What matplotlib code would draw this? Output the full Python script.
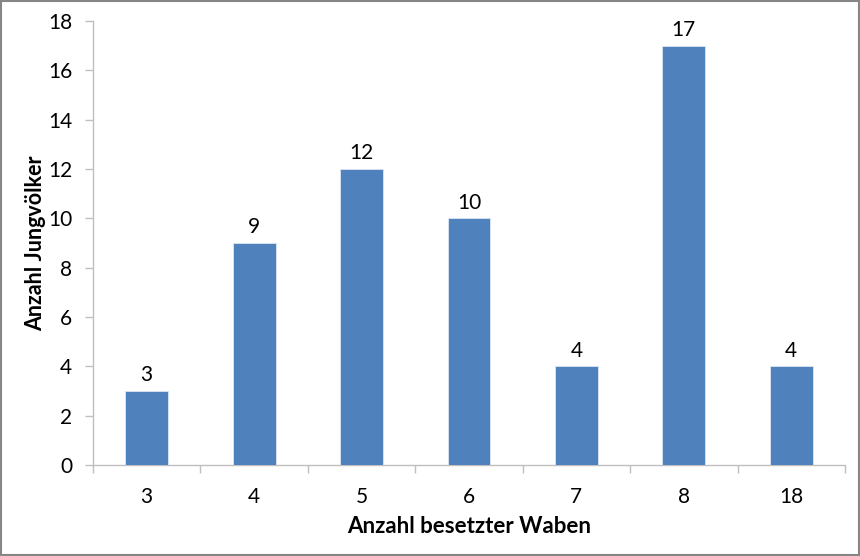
import matplotlib
matplotlib.use("Agg")
import matplotlib.pyplot as plt
import numpy as np

categories = ["3", "4", "5", "6", "7", "8", "18"]
values = [3, 9, 12, 10, 4, 17, 4]
yticks = [0, 2, 4, 6, 8, 10, 12, 14, 16, 18]

plt.rcParams['font.family'] = ['Lato', 'DejaVu Sans']

fig = plt.figure(figsize=(8.6, 5.56), dpi=100)
fig.patch.set_facecolor("white")
W, H = 860, 556
ax = fig.add_axes([93 / W, (H - 465) / H, (845 - 93) / W, (465 - 21) / H])

x = np.arange(len(categories))
bars = ax.bar(x, values, width=0.4, color="#4F81BD", edgecolor="#DCE6F2", linewidth=0.6, zorder=3)

for xi, v in zip(x, values):
    ax.annotate(str(v), (xi, v), xytext=(0, 4), textcoords="offset points",
                ha="center", va="bottom", fontsize=15, color="black")

ax.set_xlim(-0.5, len(categories) - 0.5)
ax.set_ylim(0, 18)
ax.set_yticks(yticks)
ax.set_xticks(x)
ax.set_xticklabels(categories)
ax.set_xticks(np.arange(-0.5, len(categories)), minor=True)
ax.tick_params(axis="x", which="major", length=0, pad=16, labelsize=15)
ax.tick_params(axis="x", which="minor", length=6, color="#BFBFBF", width=1)
ax.tick_params(axis="y", length=6, color="#BFBFBF", width=1, labelsize=15, pad=9)

for side in ["top", "right"]:
    ax.spines[side].set_visible(False)
for side in ["left", "bottom"]:
    ax.spines[side].set_color("#BFBFBF")
    ax.spines[side].set_linewidth(1)

ax.set_xlabel("Anzahl besetzter Waben", fontsize=16, fontweight="bold", labelpad=6)
ax.set_ylabel("Anzahl Jungvölker", fontsize=15.5, fontweight="bold", labelpad=1)

border = plt.Rectangle((0.001, 0.001), 0.998, 0.997, transform=fig.transFigure,
                       fill=False, edgecolor="#868686", linewidth=1.5)
fig.patches.append(border)

fig.savefig("out.png", dpi=100)
